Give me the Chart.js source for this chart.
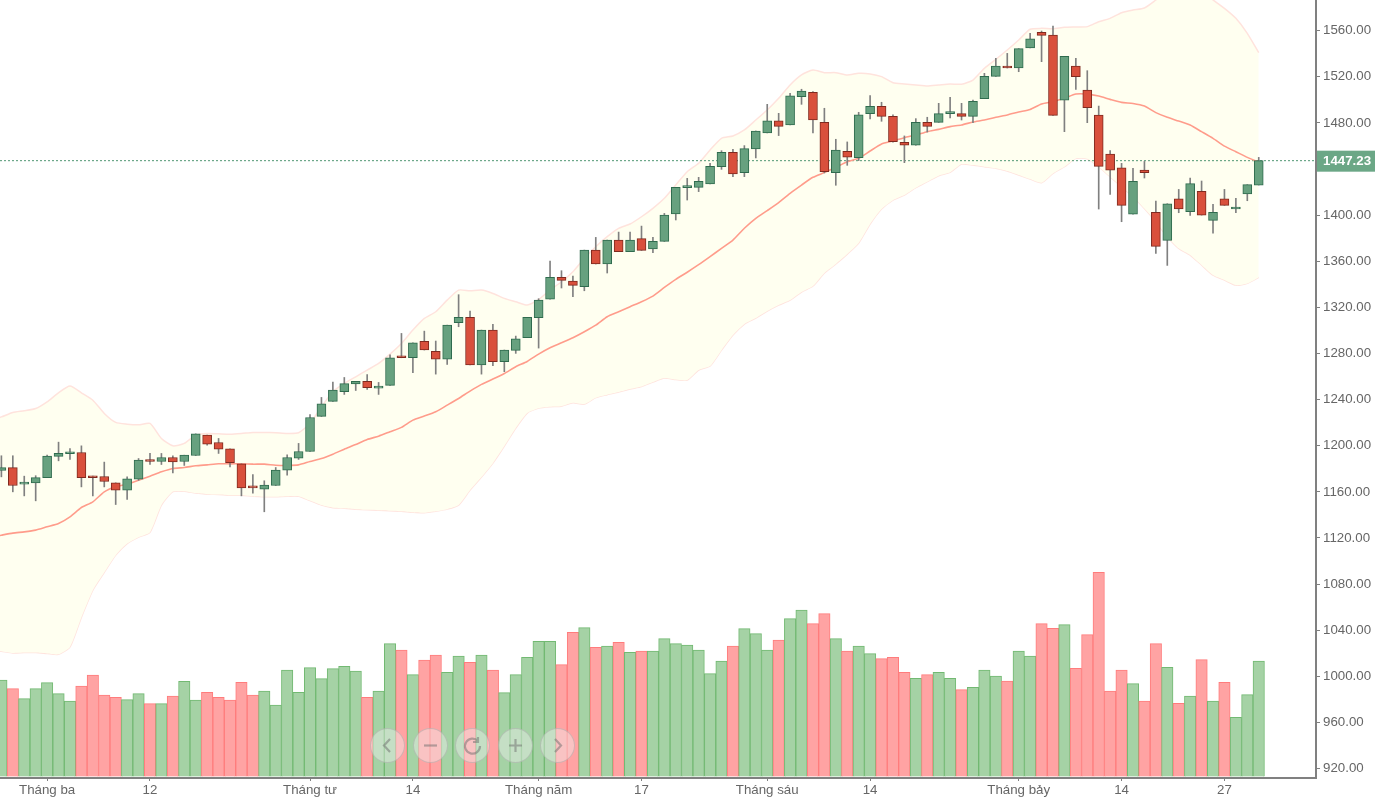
<!DOCTYPE html>
<html>
<head>
<meta charset="utf-8">
<title>Chart</title>
<script src="https://cdn.jsdelivr.net/npm/chart.js@4"></script>
<style>
    html, body { margin: 0; padding: 0; background: #fff; overflow: hidden; }
    #wrap { position: relative; width: 1375px; height: 798px; }
    canvas { display: block; }
    .nav {
        position: absolute; top: 728px; width: 33px; height: 33px; border-radius: 50%;
        background: rgba(241, 241, 241, 0.42); border: 1px solid rgba(150, 150, 150, 0.4);
    }
    .nav svg { position: absolute; left: 0; top: 0; fill: none; stroke: rgba(110, 110, 110, 0.5); stroke-width: 2.2; }
</style>
</head>
<body>
<div id="wrap">
    <canvas id="myChart" width="1375" height="798"></canvas>
    <div class="nav" style="left:370px"><svg width="33" height="33"><path d="M19 10 L13 16.5 L19 23"/></svg></div>
    <div class="nav" style="left:413px"><svg width="33" height="33"><path d="M10 16.5 H23"/></svg></div>
    <div class="nav" style="left:455px"><svg width="33" height="33"><path d="M22 12 A7.5 7.5 0 1 0 24 17 M22 8 V13 H17"/></svg></div>
    <div class="nav" style="left:498px"><svg width="33" height="33"><path d="M10 16.5 H23 M16.5 10 V23"/></svg></div>
    <div class="nav" style="left:540px"><svg width="33" height="33"><path d="M14 10 L20 16.5 L14 23"/></svg></div>
</div>
<script>
const opens = [
    1178.5, 1181, 1166.7, 1167.8, 1172.2, 1190.7, 1193, 1194.1, 1173.6, 1173.3,
    1167.8, 1161.5, 1171, 1187.8, 1186.3, 1189.8, 1186.3, 1191.5, 1209.2, 1202.8,
    1197.3, 1184.3, 1165, 1162.3, 1165.5, 1178.8, 1189.2, 1195, 1225.4, 1238.4,
    1246.8, 1253.5, 1255.8, 1250, 1252.3, 1276.8, 1276.3, 1290.5, 1281.8, 1275.1,
    1306.7, 1311.3, 1270, 1300.3, 1272.8, 1282.7, 1293.7, 1311, 1327.2, 1346,
    1342.8, 1337.9, 1369.7, 1357.6, 1378.4, 1368.3, 1379.6, 1370.6, 1377.2, 1401,
    1423.8, 1424.1, 1427, 1442, 1454.5, 1436.9, 1457.4, 1471.3, 1481.7, 1478.2,
    1502.8, 1506.5, 1480.5, 1436.9, 1455.4, 1449.9, 1488, 1494.4, 1485.7, 1463.2,
    1460.6, 1480.5, 1480.5, 1488, 1488, 1485.7, 1501, 1520.4, 1529.3, 1527.6,
    1545, 1558.5, 1556.2, 1499.8, 1529.3, 1508.5, 1486.8, 1453, 1441.1, 1400.9,
    1439.1, 1402.4, 1378.1, 1414.2, 1403, 1420.6, 1395.4, 1414.2, 1405.3, 1418.3,
    1426.1
];
const highs = [
    1191.3, 1191.3, 1173.6, 1174, 1191.8, 1203.1, 1197.6, 1199.9, 1173.6, 1185.8,
    1167.8, 1173, 1188.9, 1193.3, 1193.3, 1191.3, 1191.8, 1210.3, 1209.2, 1206.3,
    1197.3, 1184.3, 1175, 1169.6, 1181.1, 1192.1, 1202, 1227.1, 1241.9, 1255.2,
    1259.2, 1255.8, 1261.6, 1254.9, 1278.9, 1297.4, 1289.3, 1299.4, 1290.8, 1304.6,
    1331, 1316.8, 1300.3, 1305.2, 1283, 1295.1, 1311.3, 1327.5, 1360.2, 1351.8,
    1347.2, 1369.7, 1380.7, 1378.4, 1385.3, 1385.3, 1390.5, 1380.7, 1401.5, 1424.1,
    1431.9, 1432.8, 1444.9, 1455.9, 1457, 1460.3, 1473, 1496.1, 1488.3, 1505.7,
    1509.2, 1507.1, 1492.7, 1465.8, 1463.5, 1489.2, 1503.7, 1497.9, 1486.9, 1468.7,
    1483.7, 1484.9, 1497, 1502.2, 1497, 1499.9, 1523, 1536, 1540.3, 1544.4,
    1557.7, 1559.7, 1564, 1537.7, 1536, 1525.3, 1494.6, 1455.9, 1444.9, 1440.6,
    1446.6, 1412.2, 1409.9, 1422.3, 1432.2, 1429.6, 1409.3, 1422.3, 1414.5, 1426.4,
    1450.1
];
const lows = [
    1173, 1160, 1156.5, 1152.2, 1172.2, 1186.9, 1188.1, 1164.3, 1156.5, 1164.3,
    1149, 1153.4, 1170, 1183.7, 1183.7, 1176.5, 1182.9, 1191.5, 1200.5, 1193.3,
    1181.7, 1156.5, 1158.9, 1142.7, 1165.5, 1174.5, 1188.1, 1195, 1225.4, 1238.4,
    1244.5, 1247.9, 1248.8, 1244.5, 1252.3, 1276.3, 1263.3, 1283, 1262.1, 1270.5,
    1303.2, 1270, 1262.1, 1269.4, 1264.2, 1280.1, 1293.7, 1284.7, 1327.2, 1336.8,
    1329.2, 1334.4, 1357.6, 1349.8, 1368.3, 1368.3, 1369.4, 1367.4, 1377.2, 1395.8,
    1413.1, 1420.4, 1427, 1439.7, 1433.4, 1433.4, 1449.6, 1471.3, 1469, 1478.2,
    1496.1, 1471.3, 1436.6, 1425.9, 1443.2, 1447.3, 1483.4, 1481.4, 1463.2, 1445.5,
    1460.6, 1472.1, 1480.5, 1484.3, 1482.5, 1480.2, 1501, 1520.4, 1527.6, 1524.4,
    1545, 1533.1, 1486.5, 1472.4, 1509.1, 1480.2, 1405.3, 1418, 1394.3, 1400.9,
    1432.2, 1366.8, 1356.4, 1402.1, 1399.8, 1400, 1384.4, 1408.5, 1402.1, 1412.5,
    1426.1
];
const closes = [
    1181, 1165.5, 1168.4, 1172.4, 1191, 1193.3, 1194.4, 1172.2, 1172.2, 1169,
    1161.5, 1171.3, 1187.5, 1186.3, 1189.8, 1186, 1191.8, 1210.3, 1201.4, 1197,
    1185.2, 1163.5, 1163.5, 1165.8, 1178.8, 1189.8, 1195, 1224.5, 1236.4, 1248.2,
    1253.8, 1255.8, 1250.3, 1251.7, 1276.3, 1276.3, 1289.3, 1283, 1275.1, 1304.6,
    1311.3, 1270, 1300.3, 1272.8, 1283, 1292.8, 1311.3, 1326.3, 1346, 1343.4,
    1339.1, 1369.7, 1357.6, 1378.4, 1368.3, 1378.4, 1369.4, 1377.2, 1400.1, 1424.1,
    1424.2, 1429.3, 1442.3, 1454.5, 1435.7, 1457.7, 1473, 1481.7, 1477, 1503.4,
    1507.7, 1482.5, 1437.7, 1456.5, 1450.2, 1486.9, 1494.4, 1485.7, 1463.7, 1460.6,
    1480.5, 1477, 1488, 1488.2, 1485.7, 1498.7, 1520.4, 1529.3, 1527.6, 1544.4,
    1553, 1555.9, 1486.5, 1537.7, 1520, 1493.2, 1442.3, 1439.1, 1408.5, 1429.3,
    1436.8, 1372.9, 1409.9, 1405.3, 1427.3, 1400, 1402.4, 1408.5, 1406.7, 1426.4,
    1447.23
];
const volumes = [
    98, 89.3, 79.3, 89.3, 95.3, 84.3, 77, 92, 103, 83,
    80.7, 78.3, 84.3, 74.3, 74.3, 82, 96.7, 78, 85.7, 80.7,
    78, 95.7, 83, 87, 73, 108, 85.7, 110.3, 99.3, 109.3,
    111.7, 107, 80.7, 87, 134.3, 128, 103.3, 118, 123, 105.7,
    122, 115.7, 123, 108, 85.3, 103.3, 120.7, 136.7, 136.7, 113.3,
    145.7, 150.3, 130.7, 132, 135.7, 125.7, 127, 127, 139.3, 134.3,
    133, 128, 104.3, 117, 132, 149.3, 144.3, 128, 138, 159.3,
    168, 154.3, 164.3, 139.3, 127, 132, 124.3, 119.3, 120.7, 105.7,
    99.7, 103.3, 105.7, 99.7, 88.3, 90.7, 108, 102, 97, 127,
    122, 154.3, 149.7, 153.3, 109.7, 143.3, 205.7, 87, 108, 94.3,
    77, 134.3, 110.7, 74.7, 82, 118.3, 77, 95.7, 60.7, 83.3,
    117
];
// the three band lists start one session earlier, just off the left edge
const bbUpper = [
    1222,
    1225, 1228.8, 1230.3, 1232.3, 1238.1, 1245.9, 1251.7, 1245.9, 1239.5, 1228,
    1220.2, 1218.7, 1218.1, 1219.3, 1206.3, 1199.9, 1202, 1209.2, 1210.6, 1210.3,
    1210, 1210.6, 1211.5, 1211.5, 1211.2, 1210.6, 1211.2, 1219.3, 1233.8, 1246.8,
    1254, 1259.8, 1265.6, 1271.4, 1279.5, 1288.7, 1300.3, 1310.4, 1316.2, 1326.3,
    1335, 1334.4, 1335, 1332.1, 1327.8, 1324.9, 1322, 1326.9, 1335, 1342.2,
    1350.9, 1362.5, 1372.6, 1381.3, 1388.5, 1392.3, 1398.6, 1405.9, 1414.6, 1426.2,
    1437.7, 1445, 1456.5, 1466.6, 1468.7, 1473.9, 1482.5, 1491.2, 1501.3, 1512.9,
    1521.6, 1525.9, 1523.6, 1523.6, 1521.6, 1523, 1522.5, 1520.1, 1514.9, 1513.8,
    1512.9, 1512, 1512.9, 1513.8, 1513.5, 1517.2, 1527.3, 1535.1, 1543.2, 1551.9,
    1561.2, 1562, 1561.7, 1562.9, 1563.2, 1563.5, 1567.8, 1570.7, 1575.6, 1577.9,
    1579.7, 1586.6, 1594, 1597, 1597, 1594, 1586.6, 1579.4, 1570.7, 1557.7,
    1540.9
];
const bbMiddle = [
    1120.5,
    1122.4, 1124.2, 1125.3, 1126.8, 1129.7, 1132.5, 1138.3, 1146.4, 1151.3, 1160,
    1164.4, 1166.7, 1170.1, 1173.6, 1177.4, 1180.3, 1181.1, 1182.6, 1183.4, 1184.3,
    1184.3, 1184.3, 1184, 1184, 1183.1, 1182.9, 1183.4, 1186.3, 1188.9, 1192.7,
    1197, 1201, 1205.4, 1208.3, 1212.1, 1215.9, 1222.2, 1225.7, 1229.5, 1235.2,
    1241, 1247.4, 1253.2, 1257.8, 1262.7, 1268.5, 1273.1, 1279.5, 1285, 1289.3,
    1293.7, 1298.9, 1304.6, 1311.9, 1316.2, 1320.6, 1324.9, 1329.8, 1337.3, 1344.3,
    1350.5, 1357, 1364, 1371.2, 1378.4, 1388.6, 1397.2, 1403.9, 1410.8, 1418.9,
    1426.1, 1432.8, 1436.9, 1441.5, 1446.4, 1449.3, 1455.6, 1461.7, 1464.3, 1467.2,
    1469.5, 1472.4, 1474.4, 1476.8, 1478.2, 1480.8, 1482.5, 1484.9, 1486.9, 1489.5,
    1491.7, 1496.4, 1498.4, 1501.3, 1505, 1505, 1503.3, 1500.4, 1497.8, 1496.9,
    1494.6, 1488.9, 1484.8, 1481.6, 1478.1, 1472.4, 1466.6, 1459.9, 1455, 1450.1,
    1446
];
const bbLower = [
    1023,
    1021.8, 1020.3, 1020.6, 1020.6, 1019.8, 1019.1, 1025.5, 1051.3, 1074.7, 1090.2,
    1105.1, 1115.1, 1120.7, 1125, 1148.5, 1160.2, 1160.6, 1158.9, 1158, 1157.7,
    1157.1, 1157.1, 1156.2, 1155.8, 1155.8, 1156.2, 1156.2, 1152.4, 1148.5, 1146.3,
    1145.8, 1145, 1144.5, 1144.1, 1143.7, 1143.2, 1142.3, 1141.9, 1143.2, 1145,
    1148.5, 1161.5, 1172.8, 1184.9, 1199.7, 1215.3, 1228.3, 1232.6, 1233.9, 1234.3,
    1237.2, 1236.1, 1241.7, 1244.3, 1246.5, 1249.1, 1251.3, 1255.2, 1258.7, 1257.4,
    1256.9, 1265.6, 1269.1, 1282.9, 1296, 1305.5, 1310.7, 1316.8, 1322, 1326.3,
    1333.3, 1338.5, 1349.8, 1357.6, 1366.2, 1375.8, 1392.3, 1405.3, 1413, 1417.4,
    1423.8, 1429, 1434.2, 1437.1, 1444.3, 1443.4, 1442, 1440.6, 1438.2, 1434.8,
    1431.3, 1428.1, 1436.2, 1442, 1449.2, 1448.9, 1442, 1433.3, 1424.6, 1416,
    1405.8, 1394.3, 1381.3, 1371.2, 1365.4, 1356.7, 1348, 1343.7, 1339.3, 1340.8,
    1346
];
const tickIndexes = [4, 13, 27, 36, 47, 56, 67, 76, 89, 98, 107];
const tickLabels = ['Tháng ba', '12', 'Tháng tư', '14', 'Tháng năm', '17', 'Tháng sáu', '14', 'Tháng bảy', '14', '27'];
const lastPrice = 1447.23;

const xMin = -0.122;
const xMax = 115.01;
const labelFont = { family: '"Liberation Sans", Arial, sans-serif', size: 13.3 };
const axisColor = '#808080';
const textColor = '#666';

function isUp(i) {
    return closes[i] >= opens[i];
}

function pick(up, down) {
    return opens.map(function (o, i) { return isUp(i) ? up : down; });
}

function series(values, start) {
    return values.map(function (v, i) { return { x: i + start, y: v }; });
}

// draws the price tag over the right axis
const priceTag = {
    id: 'priceTag',
    afterDraw: function (chart) {
        const ctx = chart.ctx;
        const y = chart.scales.y.getPixelForValue(lastPrice);
        ctx.save();
        ctx.fillStyle = '#6ba786';
        ctx.fillRect(chart.chartArea.right + 1, y - 10, 58, 21);
        ctx.fillStyle = '#fff';
        ctx.font = 'bold 13.3px "Liberation Sans", Arial, sans-serif';
        ctx.textBaseline = 'middle';
        ctx.fillText(lastPrice.toFixed(2), chart.chartArea.right + 7, y + 0.5);
        ctx.restore();
    }
};

const data = {
    datasets: [
        {
            type: 'bar', label: 'Body', order: 1, grouped: false, barThickness: 9, minBarLength: 2,
            data: opens.map(function (o, i) { return { x: i, y: [o, closes[i]] }; }),
            backgroundColor: pick('#67a17f', '#d9503c'),
            borderColor: pick('#2f6b4e', '#7f2a1f'),
            borderWidth: 1, borderSkipped: false
        },
        {
            type: 'bar', label: 'Wick', order: 2, grouped: false, barThickness: 1,
            data: lows.map(function (l, i) { return { x: i, y: [l, highs[i]] }; }),
            backgroundColor: '#808080', borderWidth: 0
        },
        {
            type: 'line', label: 'Middle', order: 3, data: series(bbMiddle, -1),
            borderColor: '#ff9c8b', borderWidth: 1.6, pointRadius: 0, tension: 0.2, fill: false
        },
        {
            type: 'line', label: 'Last', order: 4,
            data: [{ x: xMin, y: lastPrice }, { x: xMax, y: lastPrice }],
            borderColor: '#4f9672', borderWidth: 1, borderDash: [2, 2], pointRadius: 0, fill: false
        },
        {
            type: 'line', label: 'Upper', order: 5, data: series(bbUpper, -1),
            borderColor: '#ffe3dd', borderWidth: 1.5, pointRadius: 0, tension: 0.2,
            fill: '+1', backgroundColor: '#fffff0'
        },
        {
            type: 'line', label: 'Lower', order: 6, data: series(bbLower, -1),
            borderColor: '#ffe3dd', borderWidth: 1.5, pointRadius: 0, tension: 0.2, fill: false
        },
        {
            type: 'bar', label: 'Volume', order: 7, grouped: false, barThickness: 11.43, yAxisID: 'volume',
            base: 1.5, data: series(volumes, 0),
            backgroundColor: pick('#a5d2a5', '#ffa3a3'),
            borderColor: pick('#72b972', '#ff7c7c'),
            borderWidth: 1
        }
    ]
};

const config = {
    data: data,
    plugins: [priceTag],
    options: {
        responsive: false,
        animation: false,
        events: [],
        layout: { padding: 0 },
        plugins: { legend: { display: false }, tooltip: { enabled: false } },
        scales: {
            x: {
                type: 'linear',
                offset: false,
                min: xMin,
                max: xMax,
                afterBuildTicks: function (scale) {
                    scale.ticks = tickIndexes.map(function (v) { return { value: v }; });
                },
                afterFit: function (scale) {
                    scale.height = 20;
                    scale.paddingLeft = 0;
                    scale.paddingRight = 0;
                },
                border: { color: axisColor, width: 2 },
                grid: { offset: false, drawOnChartArea: false, tickLength: 3, tickColor: axisColor },
                ticks: {
                    autoSkip: false, maxRotation: 0, includeBounds: false, padding: 1,
                    color: textColor, font: labelFont,
                    callback: function (value, index) { return tickLabels[index]; }
                }
            },
            y: {
                position: 'right',
                min: 911.8,
                max: 1586.6,
                afterFit: function (scale) {
                    scale.width = 59;
                    scale.paddingTop = 0;
                    scale.paddingBottom = 0;
                },
                border: { color: axisColor, width: 2 },
                grid: { drawOnChartArea: false, tickLength: 4, tickColor: axisColor },
                ticks: {
                    stepSize: 40, includeBounds: false, padding: 3,
                    color: textColor, font: labelFont,
                    callback: function (value) { return value === 1440 ? '' : value.toFixed(2); }
                }
            },
            volume: { display: false, min: 0, max: 778 }
        }
    }
};

const myChart = new Chart(document.getElementById('myChart'), config);
</script>
</body>
</html>
